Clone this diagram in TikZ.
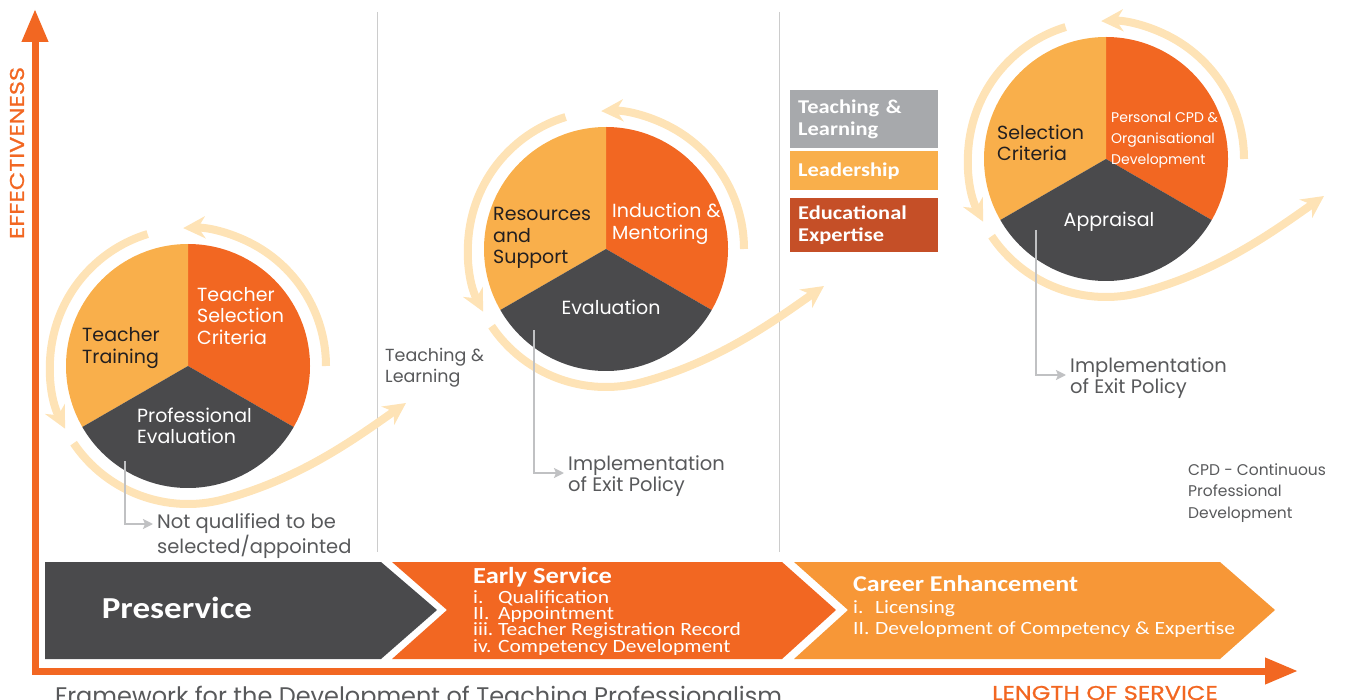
\documentclass[tikz,border=0pt]{standalone}
\usepackage{fontspec}
\setmainfont{Poppins}
\newfontfamily\bannerfont[FakeStretch=1.15]{Carlito}
\newfontfamily\axisfont[FakeStretch=1.2, FakeBold=0.8]{Poppins}
\usepackage{tikz}
\usetikzlibrary{arrows.meta, positioning, calc}

\definecolor{axisorange}{HTML}{F26722}
\definecolor{pielight}{HTML}{F9AF4B}
\definecolor{piedark}{HTML}{4A4A4C}
\definecolor{swirl}{HTML}{FEE3B6}
\definecolor{careerorange}{HTML}{F79737}
\definecolor{keygray}{HTML}{A7A9AC}
\definecolor{keyred}{HTML}{C54F27}
\definecolor{notegray}{HTML}{58595B}
\definecolor{linkgray}{HTML}{C0C1C3}
\definecolor{inkdark}{HTML}{231F20}

\tikzset{
  swirlarc/.style={draw=swirl, line width=8pt},
  swirltip/.style={swirlarc, -{Stealth[length=22pt, width=22pt, inset=7pt]}},
  exitlink/.style={draw=linkgray, line width=2.6pt, -{Stealth[length=10pt, width=10pt, inset=2pt]}},
  pielabel/.style={font=\fontsize{19}{21.5}\selectfont, align=left, inner sep=0pt, anchor=west},
  notelabel/.style={pielabel, text=notegray, font=\fontsize{19.5}{21.5}\selectfont},
  keybox/.style={anchor=north west, minimum width=148pt, text width=132pt, inner xsep=8pt,
    inner ysep=0pt, align=left, text=white, font=\bannerfont\bfseries\fontsize{19.5}{21.5}\selectfont},
  stagetitle/.style={anchor=west, inner sep=0pt, text=white, font=\bannerfont\bfseries\fontsize{23}{23}\selectfont},
  stagelist/.style={anchor=north west, inner sep=0pt, text=white, align=left},
  axisarrow/.style={draw=axisorange, line width=7pt, {Triangle[length=33pt,width=25pt]}-{Triangle[length=33pt,width=25pt]}},
}

\begin{document}
\begin{tikzpicture}[x=1pt, y=-1pt]
  \useasboundingbox (0,0) rectangle (1370,700);

  % axes
  \coordinate (origin) at (35,671);
  \coordinate (effect) at (35,9);
  \coordinate (service) at (1298,671);
  \draw[axisarrow] (effect) -- (origin) -- (service);
  \node[rotate=90, text=axisorange, font=\axisfont\fontsize{20}{20}\selectfont, inner sep=0pt] (efflbl) at (17,153) {EFFECTIVENESS};
  \node[text=axisorange, font=\axisfont\fontsize{20}{20}\selectfont, anchor=base west, inner sep=0pt] (lenlbl) at (992,700) {LENGTH OF SERVICE};
  \node[text=notegray, font=\fontsize{24}{24}\selectfont, anchor=base west, inner sep=0pt] (framelbl) at (55,704) {Framework for the Development of Teaching Professionalism};

  % phase separators
  \draw[black!20, line width=1pt] (377,12) -- (377,552);
  \draw[black!20, line width=1pt] (779,12) -- (779,552);

  % stage banner
  \fill[piedark] (45,562) -- (381,562) -- (437,610) -- (381,659) -- (45,659) -- cycle;
  \fill[axisorange] (392,562) -- (782,562) -- (836,610) -- (782,659) -- (392,659) -- (447,610) -- cycle;
  \fill[careerorange] (794,562) -- (1220,562) -- (1275,610) -- (1220,659) -- (794,659) -- (848,610) -- cycle;
  \node[text=white, inner sep=0pt, font=\bannerfont\bfseries\fontsize{30.5}{30.5}\selectfont] (preservice) at (177,608) {Preservice};
  \node[stagetitle] (early) at (473,577.5) {Early Service};
  \node[stagelist, font=\bannerfont\fontsize{18.7}{16}\selectfont] (earlylist) at (473,590)
    {\makebox[25pt][l]{i.}Qualification\\\makebox[25pt][l]{II.}Appointment\\
     \makebox[25pt][l]{iii.}Teacher Registration Record\\\makebox[25pt][l]{iv.}Competency Development};
  \node[stagetitle, font=\bannerfont\bfseries\fontsize{22.6}{22.6}\selectfont] (career) at (853,584) {Career Enhancement};
  \node[stagelist, font=\bannerfont\fontsize{18.7}{21}\selectfont] (careerlist) at (853,600)
    {\makebox[22pt][l]{i.}Licensing\\\makebox[22pt][l]{II.}Development of Competency \& Expertise};

  % legend
  \node[keybox, fill=keygray, minimum height=58pt] (keyteach) at (790,90) {Teaching \&\\Learning};
  \node[keybox, fill=pielight, minimum height=39pt] (keylead) at (790,151) {Leadership};
  \node[keybox, fill=keyred, minimum height=54pt] (keyexpert) at (790,198) {Educational\\Expertise};

  % pies with their swirls
  \foreach \cx/\cy/\id in {188/366/one, 606/249/two, 1106/159/three}{
    \coordinate (pie\id) at (\cx,\cy);
    \fill[axisorange] (pie\id) -- ++(-90:122) arc[start angle=-90, end angle=30, radius=122] -- cycle;
    \fill[pielight] (pie\id) -- ++(-90:122) arc[start angle=-90, end angle=-210, radius=122] -- cycle;
    \fill[piedark] (pie\id) -- ++(30:122) arc[start angle=30, end angle=150, radius=122] -- cycle;
    \draw[swirltip] ([shift={(0:138)}]pie\id) arc[start angle=0, end angle=-92, radius=138];
    \draw[swirltip] ([shift={(-107:138)}]pie\id) arc[start angle=-107, end angle=-207, radius=138];
    \draw[swirltip] ([shift={(-214:138)}]pie\id) arc[start angle=-214, end angle=-285, radius=138]
      .. controls +(-15:80) and +(145:60) .. (\cx+218,\cy+37);
  }

  % pie labels
  \node[pielabel, text=inkdark] (training) at (82,348) {Teacher\\Training};
  \node[pielabel, text=white] (selection) at (197,316) {Teacher\\Selection\\Criteria};
  \node[pielabel, text=white] (proeval) at (137,426) {Professional\\Evaluation};
  \node[pielabel, text=inkdark] (resources) at (493,238) {Resources\\and\\Support};
  \node[pielabel, text=white] (induction) at (612,224) {Induction \&\\Mentoring};
  \node[pielabel, text=white, anchor=center] (evaluation) at (611,307) {Evaluation};
  \node[pielabel, text=inkdark] (selcrit) at (997,143) {Selection\\Criteria};
  \node[pielabel, text=white, font=\fontsize{14}{21}\selectfont] (personal) at (1111,140) {Personal CPD \&\\Organisational\\Development};
  \node[pielabel, text=white, anchor=center] (appraisal) at (1109,222) {Appraisal};

  % notes
  \node[notelabel, font=\fontsize{17.5}{21}\selectfont] (teachnote) at (385,368) {Teaching \&\\Learning};
  \node[notelabel, font=\fontsize{15.5}{21.5}\selectfont] (cpdnote) at (1188,493) {CPD - Continuous\\Professional\\Development};
  \node[notelabel, font=\fontsize{19.5}{21}\selectfont] (notqual) at (157,536) {Not qualified to be\\selected/appointed};
  \node[notelabel] (exitpoltwo) at (568,476) {Implementation\\of Exit Policy};
  \node[notelabel] (exitpolthree) at (1070,378) {Implementation\\of Exit Policy};

  % exit links
  \coordinate (exitone) at (125,461);
  \coordinate (exittwo) at (534,330);
  \coordinate (exitthree) at (1036,230);
  \draw[exitlink] (exitone) |- ([xshift=-4pt, yshift=12pt]notqual.west);
  \draw[exitlink] (exittwo) |- ([xshift=-4pt, yshift=3pt]exitpoltwo.west);
  \draw[exitlink] (exitthree) |- ([xshift=-4pt, yshift=3pt]exitpolthree.west);
\end{tikzpicture}
\end{document}
